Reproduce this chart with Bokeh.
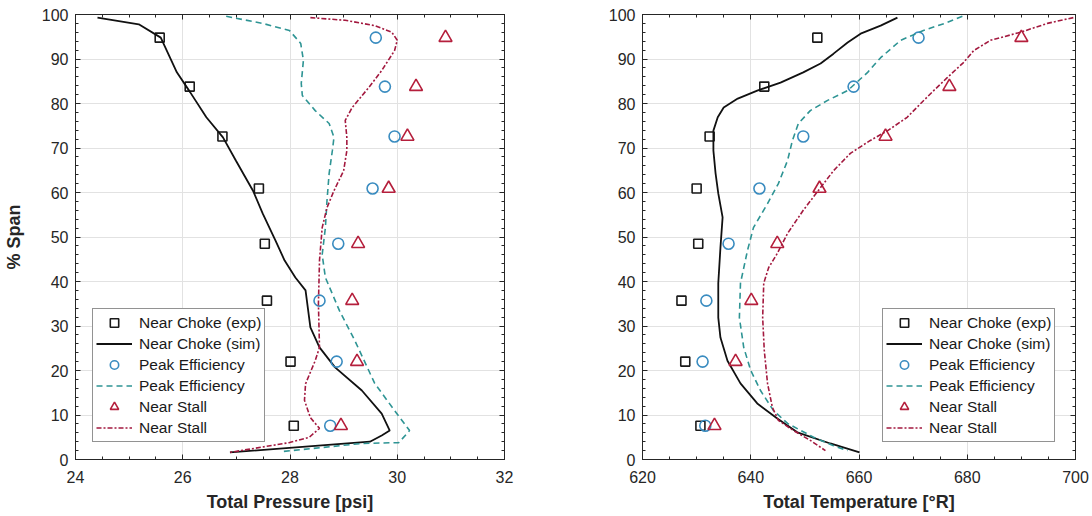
from bokeh.plotting import figure
from bokeh.layouts import row
from bokeh.models import Range1d, SingleIntervalTicker, LinearAxis, Legend, LegendItem
from bokeh.embed import file_html
from bokeh.resources import INLINE

# ---------------- data ----------------
span_exp = [94.8, 83.8, 72.6, 60.9, 48.5, 35.7, 22.0, 7.6]

# Total pressure [psi]
pt_choke_exp = [25.57, 26.13, 26.74, 27.42, 27.53, 27.57, 28.01, 28.07]
pt_peak_exp = [29.60, 29.77, 29.95, 29.54, 28.90, 28.55, 28.87, 28.75]
pt_stall_exp = [30.90, 30.35, 30.19, 29.84, 29.27, 29.16, 29.25, 28.95]

pt_choke_sim = [24.41, 25.18, 25.59, 25.89, 26.14, 26.44, 26.75, 26.99, 27.31, 27.49, 27.73, 27.90,
                28.10, 28.29, 28.38, 28.55, 28.84, 29.34, 29.71, 29.86, 29.71, 29.49, 26.88]
pt_choke_sim_span = [99.3, 97.8, 94.8, 87.0, 82.5, 76.9, 72.4, 67.2, 60.4, 55.3, 49.2, 44.7,
                     40.9, 38.0, 29.7, 25.2, 20.7, 15.5, 10.3, 6.5, 5.4, 4.0, 1.6]
pt_peak_sim = [26.81, 27.49, 27.99, 28.20, 28.25, 28.21, 28.23, 28.47, 28.73, 28.82, 28.79, 28.73,
               28.69, 28.66, 28.60, 28.66, 28.92, 29.21, 29.58, 29.95, 30.23, 30.03, 29.34, 27.86]
pt_peak_sim_span = [99.6, 98.0, 96.4, 93.5, 89.7, 84.5, 81.8, 78.4, 75.5, 72.4, 69.4, 64.3,
                    58.2, 52.1, 46.0, 40.9, 33.5, 26.7, 17.1, 11.0, 6.5, 3.8, 3.6, 1.8]
pt_stall_sim = [28.38, 29.03, 29.58, 29.90, 30.00, 29.95, 29.71, 29.47, 29.16, 29.03, 29.06, 29.06,
                29.00, 28.82, 28.69, 28.60, 28.55, 28.53, 28.55, 28.47, 28.29, 28.27, 28.38, 28.55,
                28.36, 27.99, 26.88]
pt_stall_sim_span = [99.3, 98.7, 97.5, 96.0, 94.2, 91.9, 87.4, 83.6, 79.1, 76.2, 72.4, 69.4,
                     64.9, 60.4, 56.6, 52.1, 44.7, 35.0, 25.2, 22.2, 17.0, 13.3, 9.4, 7.0,
                     5.0, 3.8, 1.6]

# Total temperature [deg R]
tt_choke_exp = [652.3, 642.5, 632.4, 630.0, 630.3, 627.2, 627.9, 630.7]
tt_peak_exp = [671.0, 659.0, 649.7, 641.6, 635.9, 631.8, 631.1, 631.6]
tt_stall_exp = [690.0, 676.7, 664.9, 652.7, 644.9, 640.1, 637.2, 633.3]

tt_choke_sim = [667.1, 664.0, 660.3, 657.9, 655.3, 652.9, 649.7, 645.5, 641.2, 637.6, 635.0, 633.9,
                633.1, 633.1, 633.5, 634.0, 634.8, 634.4, 634.0, 634.0, 634.4, 635.7, 638.1, 641.2,
                644.9, 648.6, 654.7, 660.1]
tt_choke_sim_span = [99.3, 97.5, 95.7, 93.7, 91.2, 89.0, 87.0, 84.7, 82.9, 81.1, 79.1, 76.9,
                     73.9, 69.4, 64.3, 59.8, 54.4, 47.6, 39.6, 31.9, 27.4, 22.2, 17.1, 12.6,
                     9.2, 6.1, 3.6, 1.6]
tt_peak_sim = [679.1, 676.3, 671.9, 667.7, 664.0, 661.6, 657.9, 654.2, 651.0, 648.8, 647.7, 646.8,
               645.1, 643.1, 640.5, 639.4, 638.1, 637.9, 638.7, 640.0, 641.8, 644.2, 646.8, 651.6,
               655.3, 657.9]
tt_peak_sim_span = [99.6, 98.2, 96.4, 94.2, 90.3, 87.0, 82.9, 80.7, 78.4, 75.5, 71.7, 67.2,
                    62.0, 57.5, 52.1, 47.0, 39.6, 31.9, 25.2, 20.0, 15.5, 11.0, 8.1, 5.0,
                    3.1, 2.0]
tt_stall_sim = [699.6, 694.8, 689.8, 684.3, 681.2, 679.3, 676.3, 673.8, 671.4, 668.9, 665.3, 662.1,
                658.4, 655.3, 652.9, 649.7, 646.8, 644.9, 643.3, 642.4, 642.2, 642.5, 643.1, 644.0,
                645.1, 647.9, 651.0, 653.8]
tt_stall_sim_span = [99.3, 98.0, 96.0, 94.2, 91.9, 89.2, 85.8, 82.9, 80.0, 76.9, 73.9, 71.7,
                     68.8, 64.9, 61.1, 56.0, 50.8, 46.3, 43.1, 39.6, 31.9, 24.5, 17.1, 11.7,
                     8.8, 6.5, 4.3, 2.0]

legend_labels = ["Near Choke (exp)", "Near Choke (sim)", "Peak Efficiency",
                 "Peak Efficiency", "Near Stall", "Near Stall"]

# ---------------- style ----------------
FONT = "Liberation Sans"
AX = "#262626"
GRID = "#e2e2e2"
C_SQ = "#1a1a1a"
C_CHOKE = "#111111"
C_CIRC = "#3a8cc0"
C_PEAK = "#2e9494"
C_TRI = "#b51f3c"
C_STALL = "#a3193f"


def make_fig(x0, x1, xstep, xlabel, ylabel, w, bl, br):
    p = figure(width=w, height=516, output_backend="svg", toolbar_location=None,
               x_range=Range1d(x0, x1), y_range=Range1d(0, 100),
               min_border_left=bl, min_border_right=br, min_border_top=14, min_border_bottom=57,
               x_axis_label=xlabel, y_axis_label=ylabel)
    p.background_fill_color = "white"
    p.border_fill_color = "white"
    p.outline_line_color = AX
    p.outline_line_width = 1
    p.xaxis.ticker = SingleIntervalTicker(interval=xstep, num_minor_ticks=4)
    p.yaxis.ticker = SingleIntervalTicker(interval=10, num_minor_ticks=5)
    for ax in [p.xaxis[0], p.yaxis[0]]:
        ax.axis_line_color = AX
        ax.major_tick_line_color = AX
        ax.minor_tick_line_color = AX
        ax.major_tick_in = 5
        ax.major_tick_out = 0
        ax.minor_tick_in = 3
        ax.minor_tick_out = 0
        ax.major_label_text_font = FONT
        ax.major_label_text_font_size = "16px"
        ax.major_label_text_color = AX
        ax.axis_label_text_font = FONT
        ax.axis_label_text_font_size = "18px"
        ax.axis_label_text_font_style = "bold"
        ax.axis_label_text_color = AX
    p.xaxis.major_label_standoff = 11
    p.xaxis.axis_label_standoff = 6
    p.yaxis.major_label_standoff = 7
    p.yaxis.axis_label_standoff = 15
    # mirror ticks on top and right
    for loc, step, nm in [("above", xstep, 4), ("right", 10, 5)]:
        a = LinearAxis(ticker=SingleIntervalTicker(interval=step, num_minor_ticks=nm))
        a.axis_line_color = AX
        a.major_tick_line_color = AX
        a.minor_tick_line_color = AX
        a.major_tick_in = 5
        a.major_tick_out = 0
        a.minor_tick_in = 3
        a.minor_tick_out = 0
        a.major_label_text_font_size = "0px"
        a.major_label_text_alpha = 0
        a.major_label_standoff = 0
        p.add_layout(a, loc)
    p.xgrid.grid_line_color = GRID
    p.ygrid.grid_line_color = GRID
    p.xgrid.grid_line_width = 1
    p.ygrid.grid_line_width = 1
    return p


def draw(p, choke_exp, choke_sim, choke_span, peak_exp, peak_sim, peak_span,
         stall_exp, stall_sim, stall_span, legend_loc):
    r1 = p.scatter(choke_exp, span_exp, marker="square", size=9, fill_color=None,
                   line_color=C_SQ, line_width=1.6)
    r2 = p.line(choke_sim, choke_span, line_color=C_CHOKE, line_width=1.8)
    r3 = p.scatter(peak_exp, span_exp, marker="circle", size=11, fill_color=None,
                   line_color=C_CIRC, line_width=1.6)
    r4 = p.line(peak_sim, peak_span, line_color=C_PEAK, line_width=1.6, line_dash="6 4")
    r5 = p.scatter(stall_exp, span_exp, marker="triangle", size=13, fill_color=None,
                   line_color=C_TRI, line_width=1.6)
    r6 = p.line(stall_sim, stall_span, line_color=C_STALL, line_width=1.6, line_dash="5 2 2 2")
    items = [LegendItem(label=lab, renderers=[r]) for lab, r in
             zip(legend_labels, [r1, r2, r3, r4, r5, r6])]
    leg = Legend(items=items, location=legend_loc)
    leg.label_text_font = FONT
    leg.label_text_font_size = "15.5px"
    leg.label_text_color = "#1a1a1a"
    leg.glyph_width = 36
    leg.glyph_height = 21
    leg.label_height = 21
    leg.label_standoff = 7
    leg.spacing = 0
    leg.padding = 3
    leg.margin = 0
    leg.border_line_color = AX
    leg.border_line_width = 1
    leg.background_fill_color = "white"
    leg.background_fill_alpha = 1
    p.add_layout(leg, "center")


W1 = 560
p1 = make_fig(24, 32, 2, "Total Pressure [psi]", "% Span", W1, 71, W1 - 504)
draw(p1, pt_choke_exp, pt_choke_sim, pt_choke_sim_span, pt_peak_exp, pt_peak_sim,
     pt_peak_sim_span, pt_stall_exp, pt_stall_sim, pt_stall_sim_span, (17, 17))

p2 = make_fig(620, 700, 20, "Total Temperature [°R]", None, 1092 - W1, 642 - W1, 17)
draw(p2, tt_choke_exp, tt_choke_sim, tt_choke_sim_span, tt_peak_exp, tt_peak_sim,
     tt_peak_sim_span, tt_stall_exp, tt_stall_sim, tt_stall_sim_span, (240, 17))

layout = row(p1, p2)
open("out.html", "w").write(file_html(layout, INLINE))
